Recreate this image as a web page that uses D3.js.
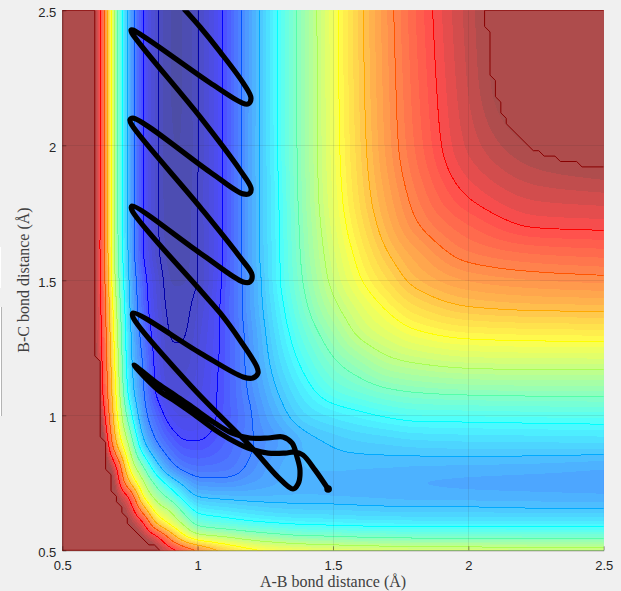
<!DOCTYPE html>
<html><head><meta charset="utf-8">
<script src="https://d3js.org/d3.v7.min.js"></script>
<style>html,body{margin:0;padding:0;background:#f0f0f0;overflow:hidden}svg{display:block}</style>
</head><body><svg id="c" width="621" height="591"></svg>
<script>
// Grid coordinates of the energy surface (bond distances, angstrom)
const abGrid=[.5,.55,.6,.65,.7,.75,.8,.85,.9,.95,1,1.1,1.2,1.3,1.4,1.5,1.6,1.7,1.8,2,2.25,2.5];
const bcGrid=[.5,.55,.6,.65,.7,.75,.8,.9,1,1.1,1.2,1.3,1.4,1.5,1.6,1.7,1.8,2,2.25,2.5];
// Energy, one row per B-C distance
const e050=[33,29,26,20,17,14.5,13,12.1,11.4,10.8,10.1,8.9,8.25,8,7.85,7.7,7.6,7.55,7.5,7.45,7.4,7.35];
const e055=[30,26,23,18,15,13,11.85,11.15,9.65,8.2,7.4,7,6.6,6.3,6.1,6.05,5.95,5.9,5.85,5.85,5.8,5.8];
const e060=[28,24,21,16.5,13.5,12.05,11.1,8.85,7.8,6.82,5.75,5.4,5.15,5,4.9,4.85,4.8,4.78,4.75,4.75,4.75,4.75];
const e065=[27,23,20,15.5,12.6,11.5,9.5,7.55,6.9,5.67,4.77,4.55,4.38,4.25,4.2,4.2,4.15,4.12,4.1,4.1,4.05,4.05];
const e070=[26,22,19,14.5,11.97,10.85,7.9,6.6,5.65,4.62,3.98,3.85,3.8,3.82,3.83,3.8,3.78,3.75,3.72,3.7,3.68,3.65];
const e075=[24,20,17,13.8,11.6,9,7.1,5.65,4.55,3.78,3.25,3.2,3.4,3.6,3.7,3.68,3.65,3.62,3.6,3.55,3.5,3.45];
const e080=[22,18,15.5,13,11.2,7.9,6.2,4.45,3.4,2.88,2.7,2.75,3.15,3.6,3.8,3.83,3.8,3.78,3.75,3.72,3.68,3.6];
const e090=[20,16,14.5,12.3,8.9,6.65,4.1,3,2.4,2.05,2.03,2.4,2.97,3.4,3.85,4.05,4.18,4.25,4.33,4.38,4.4,4.42];
const e100=[20,16,14,11.5,8.2,5.35,3.3,2.38,1.75,1.55,1.6,2.24,3,3.75,4.38,4.67,4.88,5.07,5.2,5.23,5.27,5.3];
const e110=[20,16,13,11,7.82,4.45,3.03,1.85,1.33,1.3,1.5,2.23,3.17,4.08,4.83,5.42,5.73,6,6.14,6.26,6.3,6.3];
const e120=[20,16,13,10.9,7.55,4.2,2.9,1.75,1.1,1.1,1.4,2.2,3.29,4.36,5.23,5.92,6.4,6.85,7.05,7.25,7.3,7.3];
const e130=[20,16,12.8,10.8,7.27,4.1,2.65,1.6,.96,.97,1.32,2.17,3.35,4.58,5.59,6.38,7.1,7.52,7.86,8.15,8.22,8.25];
const e140=[20,16,12.8,10.7,7,3.94,2.4,1.41,.87,.88,1.2,2.2,3.47,4.77,5.92,6.83,7.52,8.08,8.55,8.98,9.1,9.13];
const e150=[20,16,12.8,10.6,6.6,3.8,2.26,1.31,.78,.78,1,2.15,3.5,4.93,6.14,7.16,7.95,8.58,9.13,9.62,9.8,9.88];
const e160=[20,16,12.8,10.5,6.4,3.65,1.98,1.1,.7,.7,1,2.1,3.6,4.95,6.26,7.34,8.22,8.97,9.5,10.17,10.42,10.5];
const e170=[20,16,12.8,10.5,6.3,3.6,1.95,1.07,.65,.66,1,2.1,3.6,4.98,6.33,7.5,8.47,9.27,9.9,10.58,11.03,11.08];
const e180=[20,16,12.8,10.5,6.3,3.6,1.95,1.07,.62,.63,1,2.1,3.6,5,6.4,7.62,8.64,9.46,10.12,10.98,11.42,11.5];
const e200=[20,16,12.8,10.5,6.3,3.6,1.95,1.07,.6,.6,.98,2.1,3.6,5.08,6.44,7.72,8.78,9.68,10.4,11.45,12.05,12.3];
const e225=[20,16,12.8,10.5,6.3,3.6,1.95,1.07,.58,.6,.98,2.1,3.57,5.1,6.45,7.75,8.85,9.75,10.5,11.63,12.6,13];
const e250=[20,16,12.8,10.5,6.3,3.6,1.95,1.07,.58,.6,.98,2.1,3.57,5.1,6.45,7.77,8.88,9.8,10.57,11.7,12.6,13.2];
const energyRows=[e050,e055,e060,e065,e070,e075,e080,e090,e100,e110,e120,e130,e140,e150,e160,e170,e180,e200,e225,e250];

// Outlines of the capped plateaus
const capLeftAB=[.5,.62,.62,.64,.64,.66,.66,.68,.68,.7,.7,.72,.72,.74,.74,.82,.84,.86,.5];
const capLeftBC=[2.5,2.5,1.22,1.2,.92,.9,.8,.78,.72,.7,.68,.66,.64,.62,.6,.52,.52,.5,.5];
const capRightAB=[2.5,2.06,2.06,2.08,2.08,2.1,2.1,2.12,2.12,2.14,2.14,2.24,2.26,2.28,2.32,2.34,2.4,2.42,2.5];
const capRightBC=[2.5,2.5,2.44,2.42,2.26,2.24,2.18,2.16,2.12,2.1,2.08,1.98,1.98,1.96,1.96,1.94,1.94,1.92,1.92];

// Trajectory
const trajAB=[.953,1.009,1.083,1.168,1.197,1.186,1.164,1.046,.761,.754,.757,1.009,1.156,1.197,1.193,1.168,1.046,.761,.75,.757,1.009,1.156,1.201,1.193,1.168,1.009,.757,.757,1.009,1.083,1.156,1.219,1.223,1.204,1.168,1.009,.761,.761,.979,1.201,1.297,1.352,1.371,1.378,1.367,1.349,1.315,1.26,1.193,1.127,1.064,.979,.916,.854,.765,.854,.916,.979,1.064,1.112,1.186,1.26,1.323,1.36,1.389,1.434,1.482];
const trajBC=[2.501,2.438,2.346,2.231,2.175,2.153,2.157,2.231,2.427,2.427,2.416,2.105,1.909,1.842,1.823,1.82,1.901,2.101,2.094,2.075,1.771,1.586,1.52,1.494,1.494,1.601,1.775,1.76,1.464,1.379,1.279,1.179,1.157,1.138,1.142,1.231,1.379,1.364,1.105,.879,.771,.727,.746,.797,.846,.897,.92,.916,.916,.934,.971,1.031,1.075,1.116,1.186,1.094,1.053,1.009,.946,.916,.879,.86,.86,.864,.853,.797,.727];

const tickVals=[.5,1,1.5,2,2.5];
const tickText=["0.5","1","1.5","2","2.5"];
const levels=[1,2,3,4,5,6,7,8,9,10,11];
const xTitle="A-B bond distance (Å)";
const yTitle="B-C bond distance (Å)";

const sx=d3.scaleLinear().domain([.5,2.5]).range([62.3,603.7]);
const sy=d3.scaleLinear().domain([.5,2.5]).range([550.3,10.3]);
const svg=d3.select("#c");

// jet colour map
function jet(t){t=Math.max(0,Math.min(1,t));
 const c=v=>Math.round(255*Math.max(0,Math.min(1,v)));
 return [c(1.5-Math.abs(4*t-3)),c(1.5-Math.abs(4*t-2)),c(1.5-Math.abs(4*t-1))];}
const tOf=z=>z>11?.875+(z-11)*.125:(z-.5)/12;
const lineColor=z=>{const j=jet(tOf(z));return `rgb(${j[0]},${j[1]},${j[2]})`;};
const fillColor=z=>{const j=jet(tOf(z));const m=v=>Math.round(.7*v+.3*255);return `rgb(${m(j[0])},${m(j[1])},${m(j[2])})`;};

// shape-preserving resampling of the typed table, only to trace smooth contours
function tangents(xs,ys){const n=xs.length,h=[],d=[],m=new Array(n);
 for(let i=0;i<n-1;i++){h[i]=xs[i+1]-xs[i];d[i]=(ys[i+1]-ys[i])/h[i];}
 m[0]=d[0];m[n-1]=d[n-2];
 for(let i=1;i<n-1;i++){
  if(d[i-1]*d[i]<=0)m[i]=0;
  else{const a=2*h[i]+h[i-1],b=h[i]+2*h[i-1];m[i]=(a+b)/(a/d[i-1]+b/d[i]);}
 }return m;}
function evalAt(xs,ys,m,x){x=Math.max(xs[0],Math.min(xs[xs.length-1],x));
 let i=d3.bisectRight(xs,x)-1;if(i>=xs.length-1)i=xs.length-2;
 const h=xs[i+1]-xs[i],s=(x-xs[i])/h,s2=s*s,s3=s2*s;
 return (2*s3-3*s2+1)*ys[i]+(s3-2*s2+s)*h*m[i]+(-2*s3+3*s2)*ys[i+1]+(s3-s2)*h*m[i+1];}

const N=405,step=.005,origin=2.5;
const fineX=d3.range(N).map(i=>.5+(i+.5-origin)*step);
const rowsFine=energyRows.map(r=>{const m=tangents(abGrid,r);return fineX.map(x=>evalAt(abGrid,r,m,x));});
let field=new Float64Array(N*N);
for(let i=0;i<N;i++){
 const col=rowsFine.map(r=>r[i]);const m=tangents(bcGrid,col);
 for(let j=0;j<N;j++){field[j*N+i]=Math.min(14,evalAt(bcGrid,col,m,fineX[j]));}
}
// light smoothing removes the creases of the coarse table
function boxPass(src,dx,dy,r){const out=new Float64Array(N*N);
 for(let j=0;j<N;j++)for(let i=0;i<N;i++){let s=0;
  for(let k=-r;k<=r;k++){const a=Math.max(0,Math.min(N-1,i+k*dx)),b=Math.max(0,Math.min(N-1,j+k*dy));s+=src[b*N+a];}
  out[j*N+i]=s/(2*r+1);}
 return out;}
for(let p=0;p<3;p++){field=boxPass(field,1,0,2);field=boxPass(field,0,1,2);}

const proj=d3.geoTransform({point(gx,gy){this.stream.point(sx(.5+(gx-origin)*step),sy(.5+(gy-origin)*step));}});
const path=d3.geoPath(proj);
const contours=d3.contours().size([N,N]).smooth(true);

svg.append("defs").append("clipPath").attr("id","plot").append("rect")
 .attr("x",sx(.5)).attr("y",sy(2.5)).attr("width",sx(2.5)-sx(.5)).attr("height",sy(.5)-sy(2.5));
const plot=svg.append("g").attr("clip-path","url(#plot)");

// filled bands
const bandStep=.2;
const bands=d3.range(0,12.01,bandStep);
plot.append("rect").attr("x",sx(.5)).attr("y",sy(2.5)).attr("width",sx(2.5)-sx(.5)).attr("height",sy(.5)-sy(2.5)).attr("fill",fillColor(.4));
plot.append("g").attr("shape-rendering","crispEdges").selectAll("path").data(bands).join("path")
 .attr("d",t=>path(contours.contour(field,t))).attr("fill",t=>fillColor(t+bandStep/2));

// contour lines
plot.append("g").attr("shape-rendering","crispEdges").selectAll("path").data(levels).join("path")
 .attr("d",t=>path(contours.contour(field,t))).attr("fill","none")
 .attr("stroke",t=>lineColor(t)).attr("stroke-width",1);

// capped plateaus
const capLine=d3.line().x(d=>sx(d[0])).y(d=>sy(d[1]));
[[capLeftAB,capLeftBC],[capRightAB,capRightBC]].forEach(([a,b])=>{
 plot.append("path").attr("d",capLine(a.map((v,i)=>[v,b[i]]))+"Z")
  .attr("fill","rgb(174,76,76)").attr("stroke","none");
 plot.append("path").attr("d",capLine(a.map((v,i)=>[v,b[i]])))
  .attr("fill","none").attr("stroke","rgb(136,0,0)").attr("stroke-width",1);
});

// grid
const grid=plot.append("g").attr("stroke","rgba(38,38,38,0.1)").attr("stroke-width",1).attr("shape-rendering","crispEdges");
grid.selectAll("line.v").data(tickVals.slice(1,-1)).join("line").attr("class","v")
 .attr("x1",d=>sx(d)).attr("x2",d=>sx(d)).attr("y1",sy(.5)).attr("y2",sy(2.5));
grid.selectAll("line.h").data(tickVals.slice(1,-1)).join("line").attr("class","h")
 .attr("y1",d=>sy(d)).attr("y2",d=>sy(d)).attr("x1",sx(.5)).attr("x2",sx(2.5));

// axes
const xAxis=d3.axisBottom(sx).tickValues(tickVals).tickFormat((d,i)=>tickText[i]).tickSizeInner(-4).tickSizeOuter(0).tickPadding(10);
const yAxis=d3.axisLeft(sy).tickValues(tickVals).tickFormat((d,i)=>tickText[i]).tickSizeInner(-4).tickSizeOuter(0).tickPadding(6);
const gx=svg.append("g").attr("transform",`translate(0,${sy(.5)})`).call(xAxis);
const gy=svg.append("g").attr("transform",`translate(${sx(.5)},0)`).call(yAxis);
[gx,gy].forEach(g=>{
 g.selectAll("text").attr("font-family","'Liberation Sans',Arial,sans-serif").attr("font-size",13).attr("fill","#262626");
 g.selectAll("line").attr("stroke","rgba(30,0,0,0.4)");
 g.select(".domain").attr("stroke","rgba(30,0,0,0.4)");
});
gy.selectAll("text").attr("dy","0.48em");

// trajectory
const trajPts=trajAB.map((v,i)=>[v,trajBC[i]]);
plot.append("path").attr("d",d3.line().x(d=>sx(d[0])).y(d=>sy(d[1])).curve(d3.curveCatmullRom.alpha(.5))(trajPts))
 .attr("fill","none").attr("stroke","#000").attr("stroke-width",5.2).attr("stroke-linejoin","round").attr("stroke-linecap","round");
const last=trajPts[trajPts.length-1];
plot.append("circle").attr("cx",sx(last[0])).attr("cy",sy(last[1])).attr("r",3.8).attr("fill","#000");

// titles
svg.append("text").attr("x",333).attr("y",587).attr("text-anchor","middle")
 .attr("font-family","'Liberation Serif','Times New Roman',serif").attr("font-size",16).attr("fill","#404040").text(xTitle);
svg.append("text").attr("transform","translate(29,280) rotate(-90)").attr("text-anchor","middle")
 .attr("font-family","'Liberation Serif','Times New Roman',serif").attr("font-size",16).attr("fill","#404040").text(yTitle);

// window chrome slivers at the left edge
svg.append("rect").attr("x",0).attr("y",247).attr("width",1).attr("height",41).attr("fill","#fff");
svg.append("rect").attr("x",0).attr("y",307).attr("width",1).attr("height",109).attr("fill","#fff");
svg.append("rect").attr("x",1).attr("y",307).attr("width",1).attr("height",109).attr("fill","#b4b4b4");
</script></body></html>
